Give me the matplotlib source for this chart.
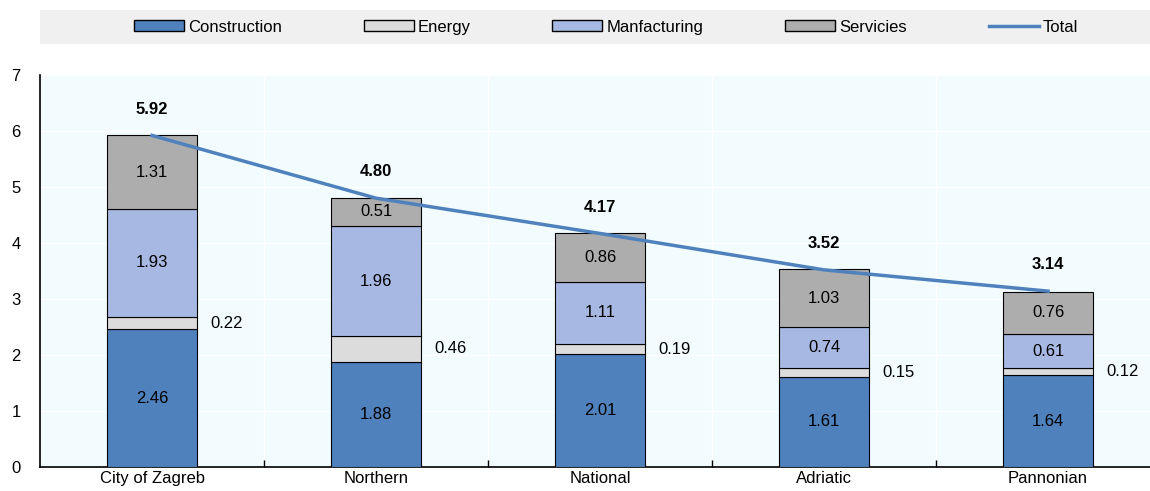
import matplotlib
matplotlib.use('Agg')
import matplotlib.pyplot as plt
from matplotlib.patches import Patch, Rectangle
from matplotlib.lines import Line2D
import numpy as np

regions = ['City of Zagreb', 'Northern', 'National', 'Adriatic', 'Pannonian']
construction = [2.46, 1.88, 2.01, 1.61, 1.64]
energy = [0.22, 0.46, 0.19, 0.15, 0.12]
manufacturing = [1.93, 1.96, 1.11, 0.74, 0.61]
services = [1.31, 0.51, 0.86, 1.03, 0.76]
total = [5.92, 4.80, 4.17, 3.52, 3.14]

C_CON, C_EN, C_MAN, C_SER, C_LINE = '#4F81BD', '#DCDCDC', '#A7B9E3', '#ADADAD', '#4F81BD'

plt.rcParams['font.family'] = ['Liberation Sans Narrow', 'Liberation Sans', 'DejaVu Sans']
FS = 12

fig = plt.figure(figsize=(11.5, 4.91), dpi=100)
ax = fig.add_axes([0.0348, 0.0489, 0.9652, 0.7984])
ax.set_facecolor('#F2FCFF')

x = np.arange(len(regions))
w = 0.40
segs = [(construction, C_CON), (energy, C_EN), (manufacturing, C_MAN), (services, C_SER)]
bottom = np.zeros(len(regions))
for vals, col in segs:
    ax.bar(x, vals, w, bottom=bottom, color=col, edgecolor='black', linewidth=0.8, zorder=3)
    for i, v in enumerate(vals):
        if vals is energy:
            ax.text(x[i] + w / 2 + 0.06, bottom[i] + v / 2, f'{v:.2f}', ha='left', va='center',
                    fontsize=FS, zorder=5)
        else:
            ax.text(x[i], bottom[i] + v / 2, f'{v:.2f}', ha='center', va='center',
                    fontsize=FS, zorder=5)
    bottom += np.array(vals)

ax.plot(x, total, color=C_LINE, lw=2.5, zorder=4)
for i, t in enumerate(total):
    ax.text(x[i], t + 0.47, f'{t:.2f}', ha='center', va='center', fontsize=FS,
            fontweight='bold', zorder=5)

ax.set_xlim(-0.5, 4.455)
ax.set_ylim(0, 7)
ax.set_yticks(range(8))
ax.set_xticks(x)
ax.set_xticklabels(regions)
ax.set_xticks(x[:-1] + 0.5, minor=True)
ax.tick_params(axis='x', which='major', length=0, labelsize=FS, pad=3)
ax.tick_params(axis='x', which='minor', direction='in', length=5, width=1, color='black')
ax.tick_params(axis='y', length=0, labelsize=FS, pad=14)
ax.grid(axis='y', color='white', lw=1, zorder=0)
ax.grid(axis='x', which='minor', color='white', lw=1, zorder=0)
for s in ['top', 'right']:
    ax.spines[s].set_visible(False)
for s in ['left', 'bottom']:
    ax.spines[s].set_linewidth(1.2)

# legend band
fig.patches.append(Rectangle((0.0348, 0.910), 0.9652, 0.070, transform=fig.transFigure,
                             facecolor='#F0F0F0', edgecolor='none', zorder=0))
handles = [
    Patch(fc=C_CON, ec='black', lw=1, label='Construction'),
    Patch(fc=C_EN, ec='black', lw=1, label='Energy'),
    Patch(fc=C_MAN, ec='black', lw=1, label='Manfacturing'),
    Patch(fc=C_SER, ec='black', lw=1, label='Servicies'),
    Line2D([0], [0], color=C_LINE, lw=2.5, label='Total'),
]
fig.legend(handles=handles, loc='center', ncol=5, bbox_to_anchor=(0.527, 0.945),
           frameon=False, fontsize=FS, handlelength=3.0, handleheight=0.6,
           handletextpad=0.25, columnspacing=4.9, borderaxespad=0)

fig.savefig('out.png', dpi=100, facecolor='white')
